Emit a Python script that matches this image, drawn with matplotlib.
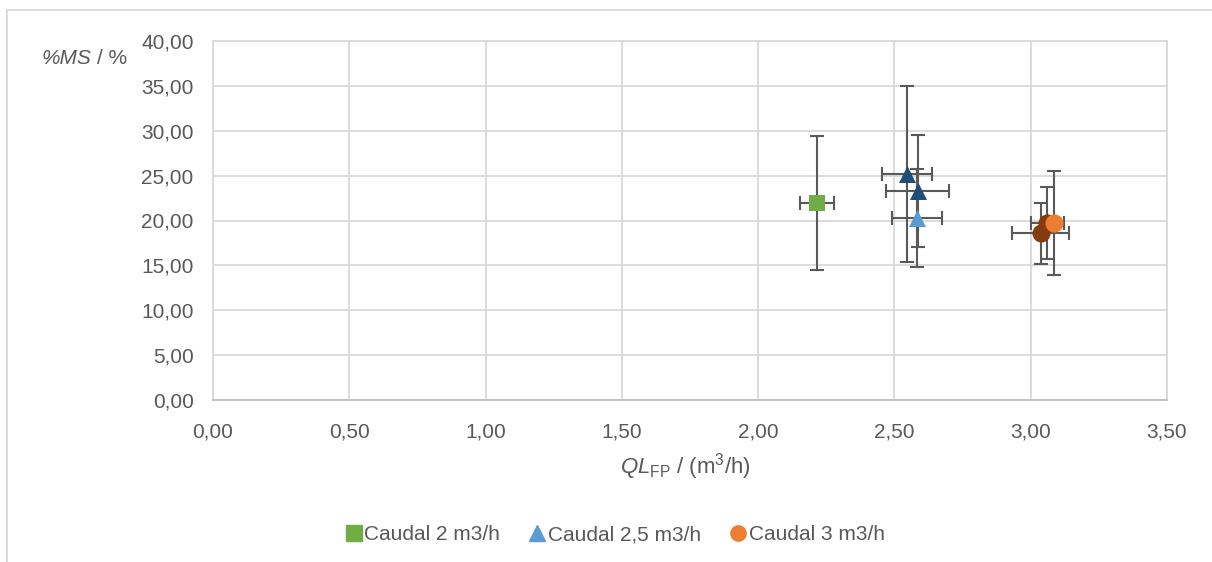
import matplotlib
matplotlib.use("Agg")
import matplotlib.pyplot as plt
from matplotlib.lines import Line2D
from matplotlib.ticker import FuncFormatter, MultipleLocator

FONT = 'Liberation Sans'
plt.rcParams['font.family'] = [FONT, 'DejaVu Sans']
plt.rcParams['mathtext.fontset'] = 'custom'
plt.rcParams['mathtext.rm'] = FONT
plt.rcParams['mathtext.it'] = FONT + ':italic'

# Data (QL_FP in m3/h, %MS in %)
s2_x = [2.217]
s2_y = [21.97]
s2_xerr = [0.063]
s2_yerr = [7.5]

s25_x = [2.546, 2.585, 2.584]
s25_y = [25.15, 23.3, 20.3]
s25_xerr = [0.093, 0.117, 0.092]
s25_yerr = [9.8, 6.2, 5.45]
s25_colors = ['#1F4E79', '#1F4E79', '#5B9BD5']

s3_x = [3.037, 3.061, 3.085]
s3_y = [18.57, 19.75, 19.75]
s3_xerr = [0.105, 0.06, 0.038]
s3_yerr = [3.4, 4.0, 5.8]
s3_colors = ['#843C0C', '#843C0C', '#ED7D31']

labels = ['Caudal 2 m3/h', 'Caudal 2,5 m3/h', 'Caudal 3 m3/h']

W, H = 1212, 562
fig = plt.figure(figsize=(W/100, H/100), dpi=100)
ax = fig.add_axes([213/W, 1-400/H, (1167-213)/W, (400-41)/H])

ecol = '#595959'
ekw = dict(fmt='none', ecolor=ecol, elinewidth=1.5, capsize=5, capthick=1.5, zorder=2)

ax.errorbar(s2_x, s2_y, xerr=s2_xerr, yerr=s2_yerr, **ekw)
ax.errorbar(s25_x, s25_y, xerr=s25_xerr, yerr=s25_yerr, **ekw)
ax.errorbar(s3_x, s3_y, xerr=s3_xerr, yerr=s3_yerr, **ekw)

ax.scatter(s2_x, s2_y, marker='s', s=130, color='#70AD47', zorder=3, linewidths=0)
for x, y, c in zip(s25_x, s25_y, s25_colors):
    ax.scatter([x], [y], marker='^', s=150, color=c, zorder=3, linewidths=0)
for x, y, c in zip(s3_x, s3_y, s3_colors):
    ax.scatter([x], [y], marker='o', s=170, color=c, zorder=3, linewidths=0)

ax.set_xlim(0, 3.5)
ax.set_ylim(0, 40)
ax.xaxis.set_major_locator(MultipleLocator(0.5))
ax.yaxis.set_major_locator(MultipleLocator(5))
fmt = FuncFormatter(lambda v, p: f"{v:.2f}".replace('.', ','))
ax.xaxis.set_major_formatter(fmt)
ax.yaxis.set_major_formatter(fmt)
ax.grid(True, color='#D9D9D9', linewidth=1.3)
ax.set_axisbelow(True)
for sp in ['top', 'right', 'left']:
    ax.spines[sp].set_color('#D9D9D9')
    ax.spines[sp].set_linewidth(1.3)
ax.spines['bottom'].set_color('#BFBFBF')
ax.spines['bottom'].set_linewidth(1.3)
ax.tick_params(length=0, labelsize=15, labelcolor='#595959')
ax.tick_params(axis='x', pad=16)
ax.tick_params(axis='y', pad=14)

# axis titles
fig.text(42/W, 1-58/H, '%MS', fontsize=15, style='italic', color='#595959', va='center', ha='left')
fig.text(97/W, 1-58/H, '/ %', fontsize=15, color='#595959', va='center', ha='left')
fig.text(685/W, 1-467/H, r'$\mathit{QL}_{\mathrm{FP}}$ / (m$^3$/h)', fontsize=16,
         color='#595959', ha='center', va='center')

# legend
handles = [
    Line2D([], [], marker='s', color='#70AD47', linestyle='none', markersize=11),
    Line2D([], [], marker='^', color='#5B9BD5', linestyle='none', markersize=11),
    Line2D([], [], marker='o', color='#ED7D31', linestyle='none', markersize=11),
]
leg = fig.legend(handles, labels, loc='center', bbox_to_anchor=(614/W, 1-535/H), ncol=3,
                 frameon=False, fontsize=15, handletextpad=0.0, columnspacing=1.3,
                 handlelength=1.0, labelcolor='#595959')

# outer chart border
fig.add_artist(Line2D([7/W, 7/W], [0, 1-10/H], color='#D9D9D9', lw=1.3, transform=fig.transFigure))
fig.add_artist(Line2D([7/W, 1], [1-10/H, 1-10/H], color='#D9D9D9', lw=1.3, transform=fig.transFigure))

fig.savefig('out.png', dpi=100)
